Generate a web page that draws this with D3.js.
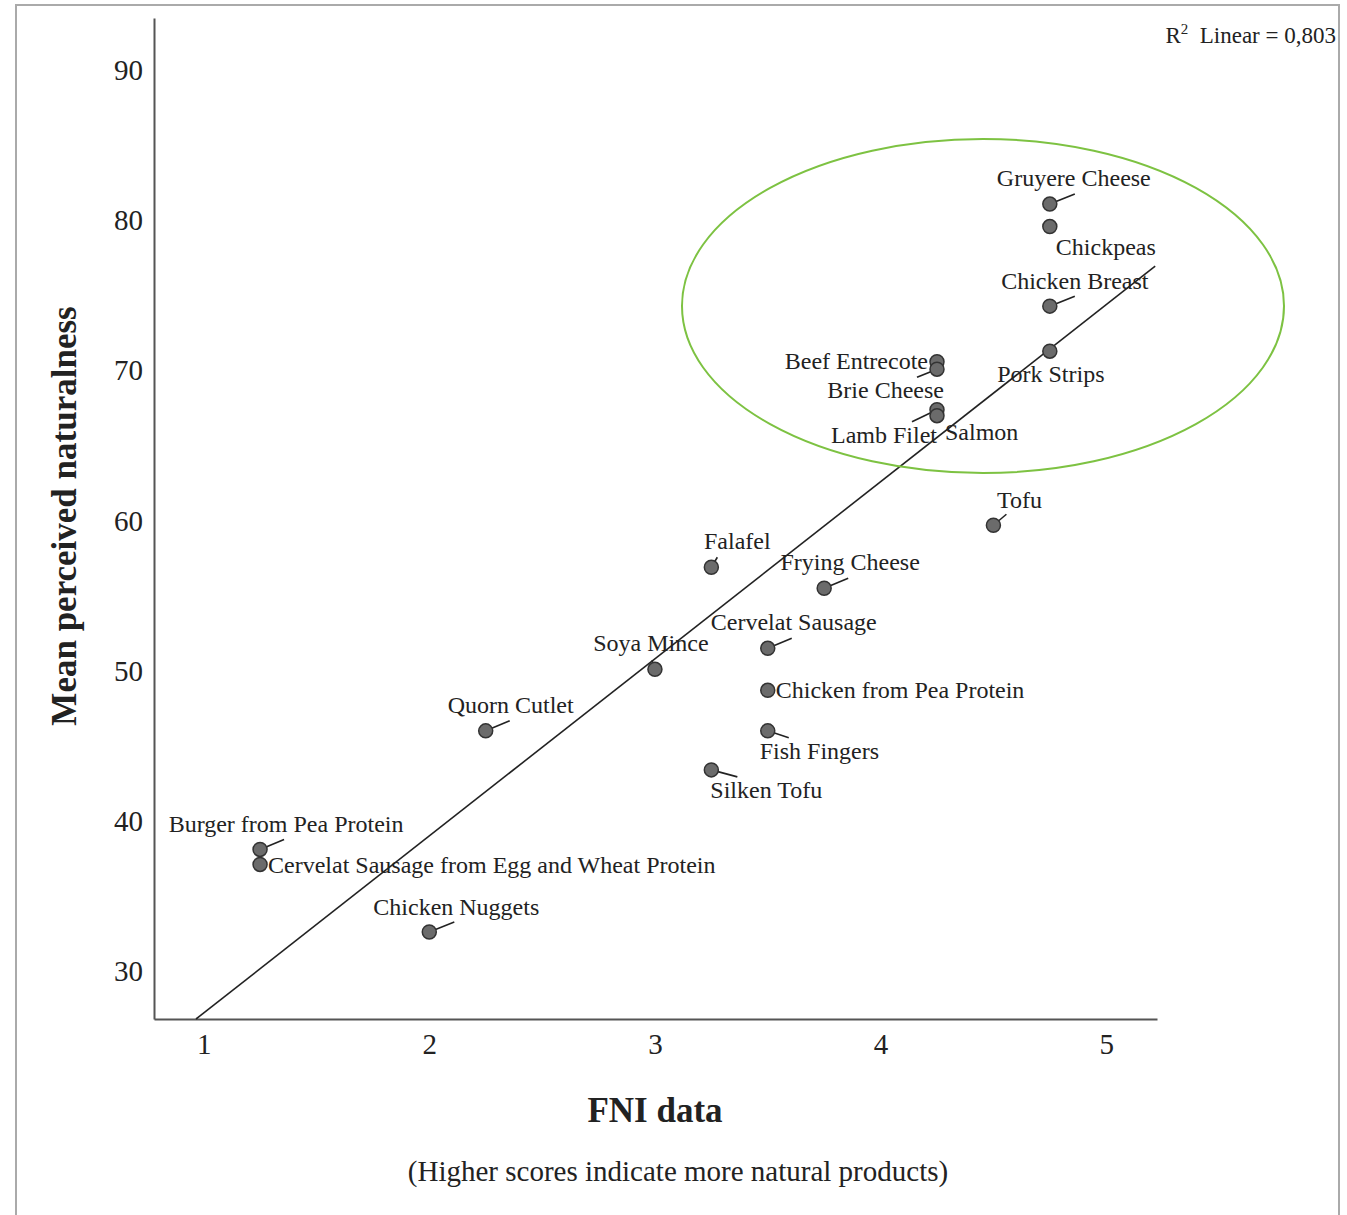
<!DOCTYPE html>
<html><head><meta charset="utf-8">
<script src="https://cdn.jsdelivr.net/npm/d3@7"></script>
<style>body{margin:0;background:#fff}svg{display:block}text{font-family:"Liberation Serif","Times New Roman",serif;fill:#222}</style>
</head><body>
<script>
const foods = ["Gruyere Cheese","Chickpeas","Chicken Breast","Pork Strips","Beef Entrecote","Brie Cheese","Lamb Filet","Salmon","Tofu","Falafel","Frying Cheese","Cervelat Sausage","Soya Mince","Chicken from Pea Protein","Fish Fingers","Silken Tofu","Quorn Cutlet","Burger from Pea Protein","Cervelat Sausage from Egg and Wheat Protein","Chicken Nuggets"];
const fni = [4.75,4.75,4.75,4.75,4.25,4.25,4.25,4.25,4.5,3.25,3.75,3.5,3,3.5,3.5,3.25,2.25,1.25,1.25,2];
const naturalness = [81.1,79.6,74.3,71.3,70.6,70.1,67.4,67.0,59.7,56.9,55.5,51.5,50.1,48.7,46.0,43.4,46.0,38.1,37.1,32.6];
const xTicks = [1,2,3,4,5];
const yTicks = [30,40,50,60,70,80,90];
const fitIntercept = 15.4, fitSlope = 11.8, r2 = "0,803";

// label layout: [dx, dy, anchor, leaderDx, leaderDy] relative to point
const labelLayout = {
 "Gruyere Cheese":[24,-18,"middle",25,-10],
 "Chickpeas":[6,28,"start",0,0],
 "Chicken Breast":[25,-17,"middle",25,-10],
 "Pork Strips":[1,31,"middle",0,0],
 "Beef Entrecote":[-9,7,"end",0,0],
 "Brie Cheese":[7,29,"end",-20,8],
 "Lamb Filet":[0,33,"end",-25,12],
 "Salmon":[8,24,"start",0,0],
 "Tofu":[26,-17,"middle",13,-11],
 "Falafel":[26,-18,"middle",6,-10],
 "Frying Cheese":[26,-18,"middle",24,-10],
 "Cervelat Sausage":[26,-18,"middle",24,-10],
 "Soya Mince":[-4,-18,"middle",-3,-9],
 "Chicken from Pea Protein":[8,8,"start",0,0],
 "Fish Fingers":[-8,28,"start",21,7],
 "Silken Tofu":[-1,28,"start",26,7],
 "Quorn Cutlet":[25,-18,"middle",24,-10],
 "Burger from Pea Protein":[26,-17,"middle",24,-10],
 "Cervelat Sausage from Egg and Wheat Protein":[8,9,"start",0,0],
 "Chicken Nuggets":[27,-17,"middle",25,-10]
};

const W=1347,H=1215;
const svg=d3.select("body").append("svg").attr("width",W).attr("height",H);
svg.append("rect").attr("x",16).attr("y",5).attr("width",1323).attr("height",1240)
  .attr("fill","none").attr("stroke","#aaa").attr("stroke-width",2);

const x=d3.scaleLinear().domain([0.78,5.225]).range([154,1157]);
const y=d3.scaleLinear().domain([26.8,93.5]).range([1019,18]);

const gx=svg.append("g").attr("transform","translate(0,1019)")
  .call(d3.axisBottom(x).tickValues(xTicks).tickSize(0).tickSizeOuter(0).tickPadding(14).tickFormat(d3.format("d")));
const gy=svg.append("g").attr("transform","translate(154,0)")
  .call(d3.axisLeft(y).tickValues(yTicks).tickSize(0).tickSizeOuter(0).tickPadding(11).tickFormat(d3.format("d")));
[gx,gy].forEach(g=>{
  g.select(".domain").attr("stroke","#555").attr("stroke-width",2);
  g.selectAll("text").attr("font-family","Liberation Serif").attr("font-size",29).attr("fill","#333");
});

// fit line
const xs=[(y.domain()[0]-fitIntercept)/fitSlope, x.domain()[1]-0.008];
svg.append("line").attr("x1",x(xs[0])).attr("y1",y(fitIntercept+fitSlope*xs[0]))
  .attr("x2",x(xs[1])).attr("y2",y(fitIntercept+fitSlope*xs[1]))
  .attr("stroke","#222").attr("stroke-width",1.6);

const data=foods.map((f,i)=>({name:f,x:fni[i],y:naturalness[i]}));

// leaders
svg.append("g").selectAll("line").data(data.filter(d=>labelLayout[d.name][3]||labelLayout[d.name][4])).join("line")
  .attr("x1",d=>x(d.x)).attr("y1",d=>y(d.y))
  .attr("x2",d=>x(d.x)+labelLayout[d.name][3]).attr("y2",d=>y(d.y)+labelLayout[d.name][4])
  .attr("stroke","#222").attr("stroke-width",1.6);

svg.append("g").selectAll("circle").data(data).join("circle")
  .attr("cx",d=>x(d.x)).attr("cy",d=>y(d.y)).attr("r",7)
  .attr("fill","#6b6b6b").attr("stroke","#333").attr("stroke-width",1.5);

svg.append("g").selectAll("text").data(data).join("text")
  .attr("x",d=>x(d.x)+labelLayout[d.name][0]).attr("y",d=>y(d.y)+labelLayout[d.name][1])
  .attr("text-anchor",d=>labelLayout[d.name][2])
  .attr("font-size",24).attr("fill","#333").text(d=>d.name);

// ellipse
svg.append("ellipse").attr("cx",983).attr("cy",306).attr("rx",301).attr("ry",167)
  .attr("fill","none").attr("stroke","#7dc242").attr("stroke-width",2);

// R2
const rt=svg.append("text").attr("x",1336).attr("y",43).attr("text-anchor","end").attr("font-size",23).attr("fill","#333");
rt.append("tspan").text("R");
rt.append("tspan").attr("dy",-9).attr("font-size",15).text("2");
rt.append("tspan").attr("dy",9).text("\u00a0 Linear = "+r2);

// titles
svg.append("text").attr("transform","translate(76,516) rotate(-90)").attr("text-anchor","middle")
  .attr("font-weight","bold").attr("font-size",35).attr("fill","#222").text("Mean perceived naturalness");
svg.append("text").attr("x",655).attr("y",1122).attr("text-anchor","middle")
  .attr("font-weight","bold").attr("font-size",35).attr("fill","#222").text("FNI data");
svg.append("text").attr("x",678).attr("y",1181).attr("text-anchor","middle")
  .attr("font-size",29).attr("fill","#333").text("(Higher scores indicate more natural products)");
</script>
</body></html>
